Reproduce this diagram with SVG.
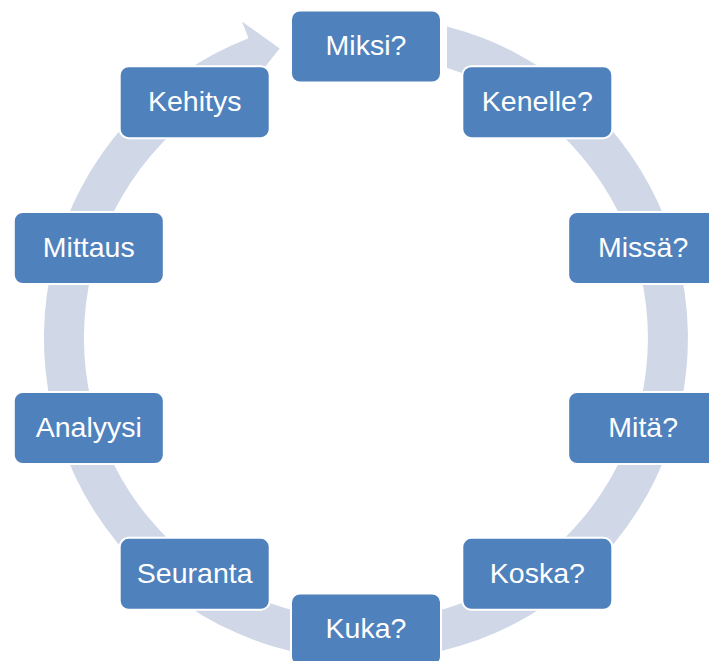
<svg xmlns="http://www.w3.org/2000/svg" width="709" height="661" viewBox="0 0 709 661">
  <style>
    .node rect { fill: #4F81BD; stroke: #FFFFFF; stroke-width: 2; }
    .node text { fill: #FFFFFF; font-family: "Liberation Sans", Arial, sans-serif; font-size: 28.5px; text-anchor: middle; }
    .ring { fill: #D0D8E8; stroke: none; }
  </style>
  <rect width="709" height="661" fill="#FFFFFF"/>
  <g id="connectors">
    <path class="ring" d="M 447 26.4 A 322 322 0 1 1 248.5 38.2 L 241.9 21.4 L 279.7 48.6 L 255.8 78.4 A 282 282 0 1 0 447 67.9 Z"/>
  </g>
  <g id="node-miksi" class="node">
    <rect x="291" y="10.5" width="150" height="72" rx="9"/>
    <text x="366" y="55.2">Miksi?</text>
  </g>
  <g id="node-kenelle" class="node">
    <rect x="462.3" y="66.2" width="150" height="72" rx="9"/>
    <text x="537.3" y="110.9">Kenelle?</text>
  </g>
  <g id="node-missa" class="node">
    <rect x="568.2" y="212" width="150" height="72" rx="9"/>
    <text x="643.2" y="256.7">Missä?</text>
  </g>
  <g id="node-mita" class="node">
    <rect x="568.2" y="392" width="150" height="72" rx="9"/>
    <text x="643.2" y="436.7">Mitä?</text>
  </g>
  <g id="node-koska" class="node">
    <rect x="462.3" y="537.8" width="150" height="72" rx="9"/>
    <text x="537.3" y="582.5">Koska?</text>
  </g>
  <g id="node-kuka" class="node">
    <rect x="291" y="593.5" width="150" height="72" rx="9"/>
    <text x="366" y="638.2">Kuka?</text>
  </g>
  <g id="node-seuranta" class="node">
    <rect x="119.7" y="537.8" width="150" height="72" rx="9"/>
    <text x="194.7" y="582.5">Seuranta</text>
  </g>
  <g id="node-analyysi" class="node">
    <rect x="13.8" y="392" width="150" height="72" rx="9"/>
    <text x="88.8" y="436.7">Analyysi</text>
  </g>
  <g id="node-mittaus" class="node">
    <rect x="13.8" y="212" width="150" height="72" rx="9"/>
    <text x="88.8" y="256.7">Mittaus</text>
  </g>
  <g id="node-kehitys" class="node">
    <rect x="119.7" y="66.2" width="150" height="72" rx="9"/>
    <text x="194.7" y="110.9">Kehitys</text>
  </g>
</svg>
